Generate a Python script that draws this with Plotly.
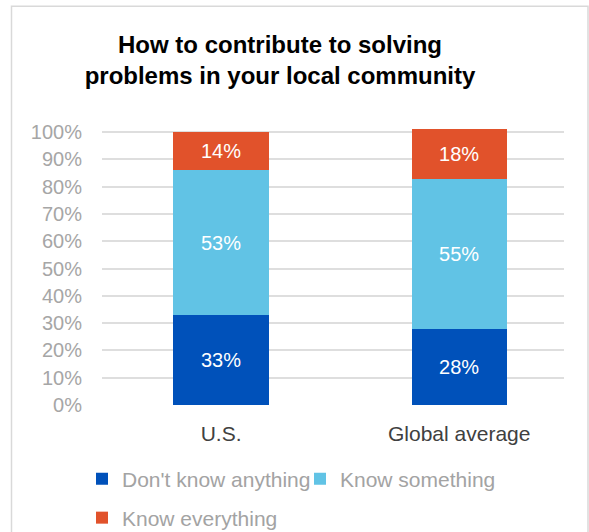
import plotly.graph_objects as go

categories = ["U.S.", "Global average"]
series_names = ["Don't know anything", "Know something", "Know everything"]
dont_know = [0.33, 0.28]
know_some = [0.53, 0.55]
know_all = [0.14, 0.18]
colors = ["#0051BA", "#61C3E5", "#E1522B"]
y_ticks = [i / 10 for i in range(11)]

W, H = 589, 532
L, R, T, B = 102, 25, 123.5, 127
plot_w = W - L - R
plot_h = H - T - B

fig = go.Figure()
series = [dont_know, know_some, know_all]
legend_ids = ["legend", "legend2", "legend3"]
for name, vals, col, lg in zip(series_names, series, colors, legend_ids):
    fig.add_trace(go.Bar(
        x=categories, y=vals, name=name, legend=lg, showlegend=True,
        marker=dict(color=col, line=dict(width=0)),
        width=0.4,
        texttemplate="%{y:.0%}", textposition="inside",
        insidetextanchor="middle",
        textfont=dict(color="white", size=20, family="Liberation Sans, Arial"),
        hoverinfo="skip",
    ))

def px_x(p):
    return (p - L) / plot_w

def px_y(p):
    return (H - B - p) / plot_h

leg_font = dict(size=21, color="#A3A3A3", family="Liberation Sans, Arial")
leg_common = dict(orientation="h", xref="container", yref="container",
                  xanchor="left", yanchor="middle", font=leg_font,
                  bgcolor="rgba(0,0,0,0)", borderwidth=0, visible=True)

fig.update_layout(
    width=W, height=H,
    showlegend=True,
    margin=dict(l=L, r=R, t=T, b=B, autoexpand=False),
    paper_bgcolor="white", plot_bgcolor="white",
    barmode="stack",
    title=dict(
        text="How to contribute to solving<br>problems in your local community",
        font=dict(size=24, color="black", family="Liberation Sans, Arial", weight="bold"),
        x=280 / W, xanchor="center", xref="container",
        y=1 - 53 / H, yanchor="top", yref="container",
    ),
    xaxis=dict(
        range=[-0.5, 1.44], showgrid=False, zeroline=False, showline=False,
        tickfont=dict(size=21, color="#404040", family="Liberation Sans, Arial"),
        ticklabelstandoff=14,
    ),
    yaxis=dict(
        range=[0, 1.03], tickvals=y_ticks, tickformat=".0%",
        showgrid=True, gridcolor="#DEDEDE", gridwidth=1.5,
        zeroline=False, showline=False,
        tickfont=dict(size=20, color="#A6A6A6", family="Liberation Sans, Arial"),
        ticklabelstandoff=19,
    ),
    legend=dict(x=82 / W, y=1 - 479 / H, **leg_common),
    legend2=dict(x=300 / W, y=1 - 479 / H, **leg_common),
    legend3=dict(x=82 / W, y=1 - 518 / H, **leg_common),
    shapes=[dict(
        type="rect", xref="paper", yref="paper",
        x0=px_x(11.5), x1=px_x(588), y0=px_y(560), y1=px_y(5.5),
        line=dict(color="#D9D9D9", width=1.5), fillcolor="rgba(0,0,0,0)",
        layer="above",
    )],
)

fig.write_html(
    "out.html",
    config={"displayModeBar": False},
    post_script="document.body.style.margin='0';document.body.style.overflow='hidden';",
)
